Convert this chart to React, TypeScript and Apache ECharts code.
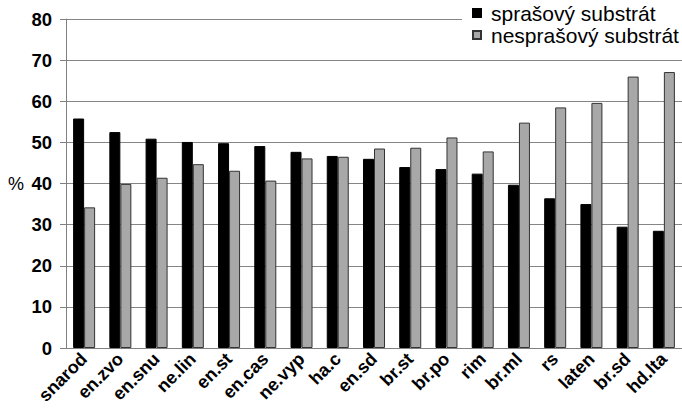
import React, { useEffect, useRef } from "react";
import * as echarts from "echarts";

const categories = ["snarod", "en.zvo", "en.snu", "ne.lin", "en.st", "en.cas", "ne.vyp", "ha.c", "en.sd", "br.st", "br.po", "rim", "br.ml", "rs", "laten", "br.sd", "hd.lta"];
const sprasovy = [55.8, 52.5, 50.9, 50.1, 49.8, 49.1, 47.7, 46.7, 46.0, 44.0, 43.5, 42.4, 39.7, 36.4, 35.0, 29.5, 28.5];
const nesprasovy = [34.2, 39.9, 41.4, 44.7, 43.1, 40.7, 46.1, 46.5, 48.5, 48.7, 51.2, 47.8, 54.8, 58.5, 59.6, 66.0, 67.1];
const seriesNames = ["sprašový substrát", "nesprašový substrát"];

export default function App() {
  const ref = useRef<HTMLDivElement>(null);
  useEffect(() => {
    if (!ref.current) return;
    const chart = echarts.init(ref.current, null, { renderer: "svg" });
    const font = "'Liberation Sans', Arial, sans-serif";
    chart.setOption({
      animation: false,
      backgroundColor: "#fff",
      textStyle: { fontFamily: font },
      legend: {
        orient: "vertical",
        left: 462,
        top: 0,
        itemWidth: 8,
        itemHeight: 8,
        itemGap: 0,
        icon: "rect",
        backgroundColor: "#fff",
        padding: [2, 12, 2, 10],
        textStyle: { fontSize: 21, lineHeight: 22, color: "#000", fontFamily: font, padding: [0, 0, 0, 5] },
        data: seriesNames,
        z: 10,
      },
      grid: { left: 66, right: 0, top: 19, bottom: 66 },
      xAxis: {
        type: "category",
        data: categories,
        axisLine: { lineStyle: { color: "#808080", width: 1 } },
        axisTick: { length: 5, lineStyle: { color: "#808080" } },
        axisLabel: {
          rotate: 45,
          fontSize: 18,
          fontWeight: "bold",
          color: "#000",
          margin: 8,
          interval: 0,
          fontFamily: font,
        },
      },
      yAxis: {
        type: "value",
        min: 0,
        max: 80,
        interval: 10,
        name: "%",
        nameLocation: "middle",
        nameRotate: 0,
        nameGap: 42,
        nameTextStyle: { fontSize: 18, color: "#000", fontFamily: font },
        axisLine: { show: true, lineStyle: { color: "#808080", width: 1 } },
        axisTick: { show: true, length: 6, lineStyle: { color: "#808080" } },
        axisLabel: { fontSize: 18.5, fontWeight: "bold", color: "#000", margin: 14, fontFamily: font },
        splitLine: { lineStyle: { color: "#858585", width: 1 } },
      },
      series: [
        {
          name: seriesNames[0],
          type: "bar",
          data: sprasovy,
          barWidth: 11,
          barGap: "0%",
          itemStyle: { color: "#000", borderColor: "#000", borderWidth: 1 },
        },
        {
          name: seriesNames[1],
          type: "bar",
          data: nesprasovy,
          barWidth: 11,
          barGap: "0%",
          itemStyle: { color: "#a8a8a8", borderColor: "#333", borderWidth: 1 },
        },
      ],
    });
    return () => chart.dispose();
  }, []);
  return (
    <div
      ref={ref}
      style={{ position: "fixed", left: 0, top: 0, width: 682, height: 414, background: "#fff" }}
    />
  );
}
